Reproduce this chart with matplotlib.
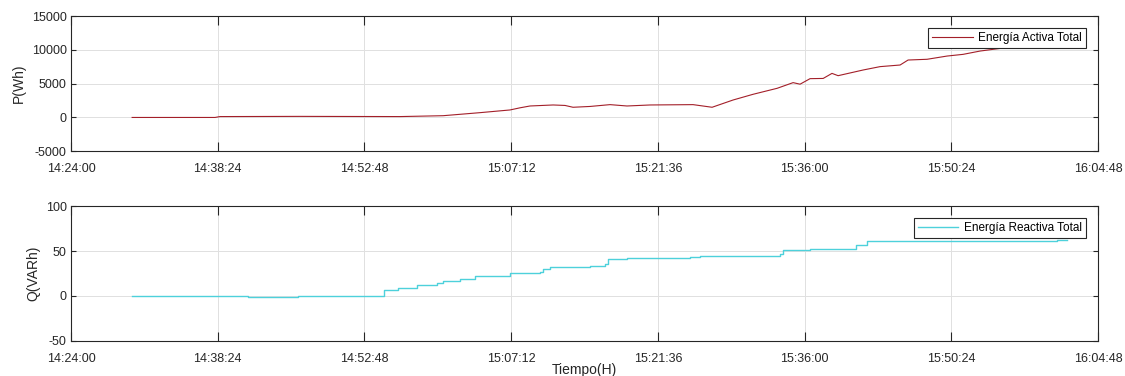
import numpy as np
import pandas as pd
import matplotlib
matplotlib.use("Agg")
import matplotlib.pyplot as plt
import matplotlib.dates as mdates

plt.rcParams["font.family"] = ["Liberation Sans", "DejaVu Sans"]
plt.rcParams["axes.unicode_minus"] = False

dia = "2020-01-01 "

# energia activa (Wh)
t_p = ["14:30:00", "14:38:08", "14:38:37", "14:46:29", "14:56:17", "15:00:31",
       "15:04:08", "15:06:07", "15:07:05", "15:08:04", "15:09:03", "15:11:19",
       "15:12:29", "15:13:16", "15:14:56", "15:16:54", "15:18:34", "15:20:50",
       "15:25:03", "15:26:55", "15:28:59", "15:30:56", "15:33:18", "15:34:52",
       "15:35:33", "15:36:32", "15:37:49", "15:38:41", "15:39:17", "15:41:44",
       "15:43:24", "15:45:22", "15:46:09", "15:48:01", "15:49:59", "15:51:33",
       "15:53:13", "15:55:11", "16:01:46"]
p_wh = [-30, -30, 100, 130, 100, 230,
        680, 950, 1080, 1400, 1670, 1820,
        1750, 1480, 1600, 1870, 1670, 1820,
        1870, 1480, 2560, 3400, 4290, 5130,
        4900, 5720, 5750, 6500, 6160, 7000,
        7500, 7740, 8480, 8590, 9070, 9320,
        9810, 10200, 11300]

# energia reactiva (VARh), escalones
t_q = ["14:30:00", "14:41:22", "14:46:17", "14:54:43", "14:56:06", "14:57:58",
       "14:59:56", "15:00:31", "15:02:11", "15:03:40", "15:07:05", "15:10:02",
       "15:10:20", "15:11:01", "15:14:57", "15:16:25", "15:16:43", "15:18:35",
       "15:24:46", "15:25:44", "15:33:36", "15:33:53", "15:36:32", "15:41:04",
       "15:42:08", "16:00:47", "16:01:46"]
q_varh = [0, -1.5, 0.5, 6.5, 9, 12,
          15, 17, 19, 22, 26, 27,
          30, 32, 33, 36, 41, 42.6,
          43.7, 44.8, 46.3, 51, 52.2, 56.7,
          61.1, 62.2, 62.2]

xticks = ["14:24:00", "14:38:24", "14:52:48", "15:07:12", "15:21:36",
          "15:36:00", "15:50:24", "16:04:48"]

tp = pd.to_datetime([dia + s for s in t_p])
tq = pd.to_datetime([dia + s for s in t_q])
tx = pd.to_datetime([dia + s for s in xticks])

c_p = (0.64, 0.12, 0.16)
c_q = (0.30, 0.82, 0.86)
axc = (0.15, 0.15, 0.15)
fs = 10

fig = plt.figure(figsize=(11.25, 3.76), dpi=100)
ax1 = fig.add_axes([0.0631, 0.5984, 0.913, 0.359])
ax2 = fig.add_axes([0.0631, 0.0931, 0.913, 0.359])

ax1.plot(tp, p_wh, color=c_p, linewidth=0.8, label="Energía Activa Total")
ax2.plot(tq, q_varh, color=c_q, linewidth=1.0, drawstyle="steps-post",
         label="Energía Reactiva Total")

ax1.set_ylim(-5000, 15000)
ax1.set_yticks([-5000, 0, 5000, 10000, 15000])
ax2.set_ylim(-50, 100)
ax2.set_yticks([-50, 0, 50, 100])
ax1.set_ylabel("P(Wh)", fontsize=fs, color=axc, labelpad=4)
ax2.set_ylabel("Q(VARh)", fontsize=fs, color=axc, labelpad=4)
ax2.set_xlabel("Tiempo(H)", fontsize=fs, color=axc, labelpad=-1)

for ax in [ax1, ax2]:
    ax.set_xlim(tx[0], tx[-1])
    ax.set_xticks(tx)
    ax.xaxis.set_major_formatter(mdates.DateFormatter("%H:%M:%S"))
    ax.grid(True, color=(0.88, 0.88, 0.88), linewidth=0.7)
    ax.set_axisbelow(True)
    ax.tick_params(axis="x", direction="in", length=6.5, width=0.8, top=True,
                   labelsize=9, colors=axc, pad=8.5)
    ax.tick_params(axis="y", direction="in", length=3.5, width=0.8, right=True,
                   labelsize=9, colors=axc, pad=3)
    for s in ax.spines.values():
        s.set_color(axc)
        s.set_linewidth(0.8)
    leg = ax.legend(loc="upper right", fontsize=8.5, frameon=True, fancybox=False,
                    borderpad=0.35, handlelength=3.4, handletextpad=0.5,
                    borderaxespad=1.0)
    leg.get_frame().set_edgecolor(axc)
    leg.get_frame().set_linewidth(0.8)
    leg.get_frame().set_alpha(1)

fig.savefig("out.png", dpi=100)
